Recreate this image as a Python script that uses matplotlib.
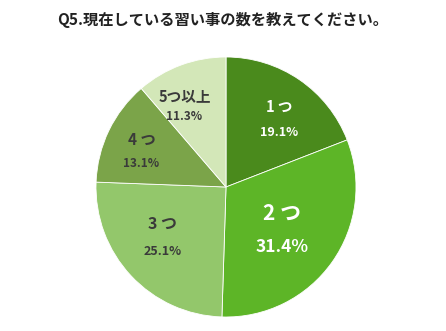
import matplotlib
matplotlib.use("Agg")
import matplotlib.pyplot as plt

plt.rcParams['font.family'] = ['Noto Sans CJK JP', 'DejaVu Sans']

title = "Q5.現在している習い事の数を教えてください。"
categories = ["1つ", "2つ", "3つ", "4つ", "5つ以上"]
display_names = ["1 つ", "2 つ", "3 つ", "4 つ", "5つ以上"]
values = [19.1, 31.4, 25.1, 13.1, 11.3]
colors = ["#4a8a1c", "#5db527", "#93c76b", "#7ba449", "#d3e7b8"]
text_colors = ["white", "white", "#3a3a3a", "#3a3a3a", "#3a3a3a"]
name_sizes = [10.5, 15, 11.5, 11, 10.5]
pct_sizes = [9, 12.5, 9, 8.5, 8.5]
label_pos = [(0.41, 0.52), (0.43, -0.33), (-0.49, -0.39), (-0.65, 0.27), (-0.32, 0.62)]
half_gaps = [0.10, 0.13, 0.105, 0.09, 0.08]

W, H = 446, 331
fig = plt.figure(figsize=(W / 100, H / 100), dpi=100)
cx, cy, r = 226, 187, 130
ax = fig.add_axes([(cx - r) / W, (H - cy - r) / H, 2 * r / W, 2 * r / H])
ax.pie(values, colors=colors, startangle=90, counterclock=False,
       wedgeprops=dict(edgecolor="white", linewidth=0.6))
ax.set_xlim(-1, 1)
ax.set_ylim(-1, 1)
ax.set_aspect("equal")

for name, v, tc, ns, ps, (x, y), g in zip(display_names, values, text_colors,
                                          name_sizes, pct_sizes, label_pos, half_gaps):
    ax.text(x, y + g, name, ha="center", va="center", color=tc,
            fontsize=ns, fontweight="bold")
    ax.text(x, y - g, f"{v:.1f}%", ha="center", va="center", color=tc,
            fontsize=ps, fontweight="bold")

fig.text(0.5, 1 - 20 / H, title, ha="center", va="center", fontsize=11,
         fontweight="bold", color="#222222")

fig.savefig("out.png", dpi=100, facecolor="white")
